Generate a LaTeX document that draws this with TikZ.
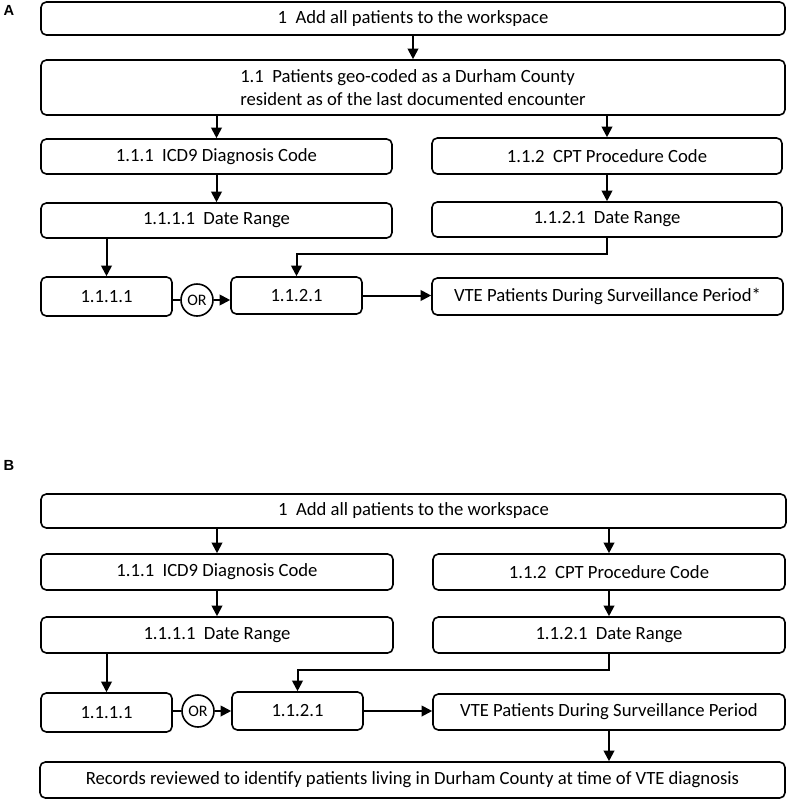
\documentclass[tikz,border=0pt]{standalone}
\usepackage{fontspec}
\setmainfont{Carlito}
\newfontfamily\lblfont{Liberation Sans}
\usetikzlibrary{arrows.meta}
\newcommand\bx[7][]{\node[box, #1, minimum width={(#5-#3)*0.75pt}, minimum height={(#6-#4)*0.75pt}] (#2) at ({(#3+#5)/2},{(#4+#6)/2}) {#7};}
\begin{document}
\begin{tikzpicture}[x=0.75pt,y=-0.75pt,
  box/.style={draw, rounded corners=4pt, line width=1.2pt, inner sep=0pt, font=\fontsize{14}{17.5}\selectfont},
  arr/.style={line width=1.5pt, -{Triangle[length=8pt,width=8pt]}},
  conn/.style={line width=1.5pt},
  orc/.style={draw, circle, line width=1.2pt, minimum size=24pt, inner sep=0pt, font=\fontsize{12}{14}\selectfont},
  lbl/.style={font=\lblfont\bfseries\fontsize{11}{13}\selectfont}]
\useasboundingbox (0,0) rectangle (788,800);
% ---------- Panel A ----------
\node[lbl] (labA) at (9,10) {A};
\bx{a1}{41}{2}{785}{35}{1\hspace{0.45em}Add all patients to the workspace}
\bx[align=left]{a11}{41}{60}{785}{115}{1.1\hspace{0.45em}Patients geo-coded as a Durham County\\resident as of the last documented encounter}
\bx{a111}{41}{139}{392}{174}{1.1.1\hspace{0.45em}ICD9 Diagnosis Code}
\bx{a112}{432}{138}{782}{174}{1.1.2\hspace{0.45em}CPT Procedure Code}
\bx{a1111}{41}{203}{392}{238}{1.1.1.1\hspace{0.45em}Date Range}
\bx{a1121}{432}{202}{782}{237}{1.1.2.1\hspace{0.45em}Date Range}
\bx{as1}{41}{277}{172}{316}{1.1.1.1}
\node[orc] (aor) at (197,300) {OR};
\bx{as2}{231}{277}{362}{314}{1.1.2.1}
\bx{avte}{432}{278}{783}{315}{VTE Patients During Surveillance Period*}

\draw[arr] (a1.south) -- (a11.north);
\draw[arr] (a11.south -| a111.north) -- (a111.north);
\draw[arr] (a11.south -| a112.north) -- (a112.north);
\draw[arr] (a111.south) -- (a1111.north);
\draw[arr] (a112.south) -- (a1121.north);
\draw[arr] (a1111.south -| as1.north) -- (as1.north);
\draw[arr] (a1121.south) -- ++(0,16) -| (as2.north);
\draw[conn] (as1.east |- aor.west) -- (aor.west);
\draw[arr] (aor.east) -- (as2.west |- aor.east);
\draw[arr] (as2.east) -- (avte.west |- as2.east);

% ---------- Panel B ----------
\node[lbl] (labB) at (9,465) {B};
\bx{b1}{41}{494}{786}{528}{1\hspace{0.45em}Add all patients to the workspace}
\bx{b111}{41}{554}{393}{590}{1.1.1\hspace{0.45em}ICD9 Diagnosis Code}
\bx{b112}{433}{554}{785}{590}{1.1.2\hspace{0.45em}CPT Procedure Code}
\bx{b1111}{41}{617}{393}{653}{1.1.1.1\hspace{0.45em}Date Range}
\bx{b1121}{433}{617}{785}{653}{1.1.2.1\hspace{0.45em}Date Range}
\bx{bs1}{41}{693}{172}{732}{1.1.1.1}
\node[orc] (bor) at (198,711) {OR};
\bx{bs2}{232}{692}{363}{730}{1.1.2.1}
\bx{bvte}{433}{694}{785}{730}{VTE Patients During Surveillance Period}
\bx{brec}{40}{762}{785}{798}{Records reviewed to identify patients living in Durham County at time of VTE diagnosis}

\draw[arr] (b1.south -| b111.north) -- (b111.north);
\draw[arr] (b1.south -| b112.north) -- (b112.north);
\draw[arr] (b111.south) -- (b1111.north);
\draw[arr] (b112.south) -- (b1121.north);
\draw[arr] (b1111.south -| bs1.north) -- (bs1.north);
\draw[arr] (b1121.south) -- ++(0,16) -| (bs2.north);
\draw[conn] (bs1.east |- bor.west) -- (bor.west);
\draw[arr] (bor.east) -- (bs2.west |- bor.east);
\draw[arr] (bs2.east) -- (bvte.west |- bs2.east);
\draw[arr] (bvte.south) -- (brec.north -| bvte.south);
\end{tikzpicture}
\end{document}
